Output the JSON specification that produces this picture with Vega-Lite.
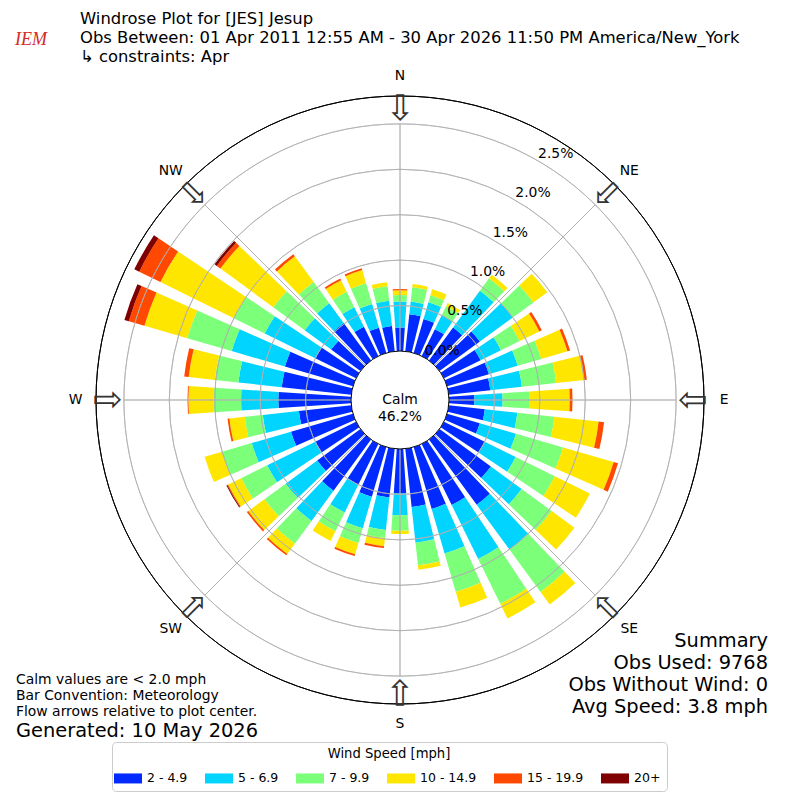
{
  "$schema": "https://vega.github.io/schema/vega-lite/v6.json",
  "width": 800,
  "height": 800,
  "autosize": "none",
  "padding": 0,
  "background": "white",
  "config": {"view": {"stroke": null}, "font": "DejaVu Sans"},
  "datasets": {
    "rose": [
      {"dir":0,"bin":2,"pct":0.26},{"dir":0,"bin":5,"pct":0.285},{"dir":0,"bin":7,"pct":0.072},{"dir":0,"bin":10,"pct":0.053},{"dir":0,"bin":15,"pct":0.013},
      {"dir":10,"bin":2,"pct":0.41},{"dir":10,"bin":5,"pct":0.14},{"dir":10,"bin":7,"pct":0.16},{"dir":10,"bin":10,"pct":0.035},
      {"dir":20,"bin":2,"pct":0.39},{"dir":20,"bin":5,"pct":0.19},{"dir":20,"bin":7,"pct":0.08},{"dir":20,"bin":10,"pct":0.07},
      {"dir":30,"bin":2,"pct":0.33},{"dir":30,"bin":5,"pct":0.17},{"dir":30,"bin":7,"pct":0.11},{"dir":30,"bin":10,"pct":0.04},
      {"dir":40,"bin":2,"pct":0.45},{"dir":40,"bin":5,"pct":0.5},{"dir":40,"bin":7,"pct":0.17},{"dir":40,"bin":10,"pct":0.05},
      {"dir":50,"bin":2,"pct":0.55},{"dir":50,"bin":5,"pct":0.45},{"dir":50,"bin":7,"pct":0.28},{"dir":50,"bin":10,"pct":0.19},
      {"dir":60,"bin":2,"pct":0.45},{"dir":60,"bin":5,"pct":0.25},{"dir":60,"bin":7,"pct":0.23},{"dir":60,"bin":10,"pct":0.24},{"dir":60,"bin":15,"pct":0.03},
      {"dir":70,"bin":2,"pct":0.48},{"dir":70,"bin":5,"pct":0.33},{"dir":70,"bin":7,"pct":0.27},{"dir":70,"bin":10,"pct":0.3},{"dir":70,"bin":15,"pct":0.03},
      {"dir":80,"bin":2,"pct":0.46},{"dir":80,"bin":5,"pct":0.35},{"dir":80,"bin":7,"pct":0.38},{"dir":80,"bin":10,"pct":0.31},{"dir":80,"bin":15,"pct":0.03},
      {"dir":90,"bin":2,"pct":0.28},{"dir":90,"bin":5,"pct":0.31},{"dir":90,"bin":7,"pct":0.3},{"dir":90,"bin":10,"pct":0.44},{"dir":90,"bin":15,"pct":0.03},
      {"dir":100,"bin":2,"pct":0.4},{"dir":100,"bin":5,"pct":0.36},{"dir":100,"bin":7,"pct":0.41},{"dir":100,"bin":10,"pct":0.49},{"dir":100,"bin":15,"pct":0.06},
      {"dir":110,"bin":2,"pct":0.375},{"dir":110,"bin":5,"pct":0.415},{"dir":110,"bin":7,"pct":0.54},{"dir":110,"bin":10,"pct":0.58},{"dir":110,"bin":15,"pct":0.05},
      {"dir":120,"bin":2,"pct":0.5},{"dir":120,"bin":5,"pct":0.38},{"dir":120,"bin":7,"pct":0.48},{"dir":120,"bin":10,"pct":0.43},
      {"dir":130,"bin":2,"pct":0.7},{"dir":130,"bin":5,"pct":0.42},{"dir":130,"bin":7,"pct":0.41},{"dir":130,"bin":10,"pct":0.31},
      {"dir":140,"bin":2,"pct":0.89},{"dir":140,"bin":5,"pct":0.61},{"dir":140,"bin":7,"pct":0.58},{"dir":140,"bin":10,"pct":0.17},
      {"dir":150,"bin":2,"pct":0.75},{"dir":150,"bin":5,"pct":0.66},{"dir":150,"bin":7,"pct":0.55},{"dir":150,"bin":10,"pct":0.18},
      {"dir":160,"bin":2,"pct":0.71},{"dir":160,"bin":5,"pct":0.51},{"dir":160,"bin":7,"pct":0.44},{"dir":160,"bin":10,"pct":0.18},
      {"dir":170,"bin":2,"pct":0.645},{"dir":170,"bin":5,"pct":0.395},{"dir":170,"bin":7,"pct":0.25},{"dir":170,"bin":10,"pct":0.05},
      {"dir":180,"bin":2,"pct":0.49},{"dir":180,"bin":5,"pct":0.24},{"dir":180,"bin":7,"pct":0.17},{"dir":180,"bin":10,"pct":0.035},
      {"dir":190,"bin":2,"pct":0.54},{"dir":190,"bin":5,"pct":0.36},{"dir":190,"bin":7,"pct":0.09},{"dir":190,"bin":10,"pct":0.09},{"dir":190,"bin":15,"pct":0.02},
      {"dir":200,"bin":2,"pct":0.57},{"dir":200,"bin":5,"pct":0.36},{"dir":200,"bin":7,"pct":0.17},{"dir":200,"bin":10,"pct":0.13},{"dir":200,"bin":15,"pct":0.02},
      {"dir":210,"bin":2,"pct":0.5},{"dir":210,"bin":5,"pct":0.34},{"dir":210,"bin":7,"pct":0.23},{"dir":210,"bin":10,"pct":0.12},
      {"dir":220,"bin":2,"pct":0.7},{"dir":220,"bin":5,"pct":0.41},{"dir":220,"bin":7,"pct":0.31},{"dir":220,"bin":10,"pct":0.14},{"dir":220,"bin":15,"pct":0.02},
      {"dir":230,"bin":2,"pct":0.59},{"dir":230,"bin":5,"pct":0.43},{"dir":230,"bin":7,"pct":0.29},{"dir":230,"bin":10,"pct":0.22},{"dir":230,"bin":15,"pct":0.02},
      {"dir":240,"bin":2,"pct":0.5},{"dir":240,"bin":5,"pct":0.59},{"dir":240,"bin":7,"pct":0.32},{"dir":240,"bin":10,"pct":0.16},{"dir":240,"bin":15,"pct":0.01},{"dir":240,"bin":20,"pct":0.01},
      {"dir":250,"bin":2,"pct":0.71},{"dir":250,"bin":5,"pct":0.45},{"dir":250,"bin":7,"pct":0.34},{"dir":250,"bin":10,"pct":0.2},
      {"dir":260,"bin":2,"pct":0.58},{"dir":260,"bin":5,"pct":0.4},{"dir":260,"bin":7,"pct":0.2},{"dir":260,"bin":10,"pct":0.17},{"dir":260,"bin":15,"pct":0.02},
      {"dir":270,"bin":2,"pct":0.8},{"dir":270,"bin":5,"pct":0.41},{"dir":270,"bin":7,"pct":0.3},{"dir":270,"bin":10,"pct":0.28},{"dir":270,"bin":15,"pct":0.01},
      {"dir":280,"bin":2,"pct":0.77},{"dir":280,"bin":5,"pct":0.48},{"dir":280,"bin":7,"pct":0.26},{"dir":280,"bin":10,"pct":0.29},{"dir":280,"bin":15,"pct":0.05},
      {"dir":290,"bin":2,"pct":0.78},{"dir":290,"bin":5,"pct":0.61},{"dir":290,"bin":7,"pct":0.51},{"dir":290,"bin":10,"pct":0.49},{"dir":290,"bin":15,"pct":0.18},{"dir":290,"bin":20,"pct":0.05},
      {"dir":300,"bin":2,"pct":0.5},{"dir":300,"bin":5,"pct":0.62},{"dir":300,"bin":7,"pct":0.38},{"dir":300,"bin":10,"pct":0.9},{"dir":300,"bin":15,"pct":0.26},{"dir":300,"bin":20,"pct":0.06},
      {"dir":310,"bin":2,"pct":0.4},{"dir":310,"bin":5,"pct":0.36},{"dir":310,"bin":7,"pct":0.43},{"dir":310,"bin":10,"pct":0.72},{"dir":310,"bin":15,"pct":0.05},{"dir":310,"bin":20,"pct":0.03},
      {"dir":320,"bin":2,"pct":0.51},{"dir":320,"bin":5,"pct":0.27},{"dir":320,"bin":7,"pct":0.29},{"dir":320,"bin":10,"pct":0.35},{"dir":320,"bin":15,"pct":0.03},
      {"dir":330,"bin":2,"pct":0.36},{"dir":330,"bin":5,"pct":0.24},{"dir":330,"bin":7,"pct":0.19},{"dir":330,"bin":10,"pct":0.14},{"dir":330,"bin":15,"pct":0.02},
      {"dir":340,"bin":2,"pct":0.29},{"dir":340,"bin":5,"pct":0.27},{"dir":340,"bin":7,"pct":0.24},{"dir":340,"bin":10,"pct":0.15},{"dir":340,"bin":15,"pct":0.02},
      {"dir":350,"bin":2,"pct":0.28},{"dir":350,"bin":5,"pct":0.28},{"dir":350,"bin":7,"pct":0.16},{"dir":350,"bin":10,"pct":0.045}
    ],
    "compass": [
      {"a":0,"lab":"N"},{"a":45,"lab":"NE"},{"a":90,"lab":"E"},{"a":135,"lab":"SE"},
      {"a":180,"lab":"S"},{"a":225,"lab":"SW"},{"a":270,"lab":"W"},{"a":315,"lab":"NW"}
    ],
    "rings": [
      {"r":0,"t":"0.0%"},{"r":0.5,"t":"0.5%"},{"r":1,"t":"1.0%"},{"r":1.5,"t":"1.5%"},{"r":2,"t":"2.0%"},{"r":2.5,"t":"2.5%"}
    ]
  },
  "resolve": {"scale": {"theta": "independent"}},
  "layer": [
    {
      "data": {"name": "rose"},
      "mark": {"type": "arc", "strokeWidth": 0},
      "encoding": {
        "theta": {
          "field": "dir", "type": "ordinal",
          "scale": {
            "type": "band",
            "domain": [0,10,20,30,40,50,60,70,80,90,100,110,120,130,140,150,160,170,180,190,200,210,220,230,240,250,260,270,280,290,300,310,320,330,340,350],
            "range": [-0.0872665, 6.1959188],
            "paddingInner": 0.24,
            "paddingOuter": 0.12
          }
        },
        "radius": {
          "field": "pct", "type": "quantitative", "stack": "zero",
          "scale": {"type": "linear", "domain": [0, 2.807], "range": [49, 304], "nice": false}
        },
        "color": {
          "field": "bin", "type": "ordinal",
          "scale": {
            "domain": [2, 5, 7, 10, 15, 20],
            "range": ["#002aff", "#00d4ff", "#7cff79", "#ffe600", "#ff4800", "#7f0000"]
          },
          "legend": {
            "title": "Wind Speed [mph]",
            "orient": "none",
            "legendX": 112,
            "legendY": 742,
            "direction": "horizontal",
            "titleAnchor": "middle",
            "titleFontSize": 13.2,
            "titleFontWeight": "normal",
            "titleColor": "black",
            "titlePadding": 7,
            "labelFontSize": 12.5,
            "labelColor": "black",
            "labelOffset": 9,
            "symbolType": "M-1.4,-0.5H1.4V0.5H-1.4Z",
            "symbolSize": 400,
            "symbolStrokeWidth": 0,
            "columnPadding": 17,
            "padding": 6,
            "strokeColor": "#cccccc",
            "fillColor": "white",
            "cornerRadius": 4,
            "labelExpr": "datum.value == 2 ? '2 - 4.9' : datum.value == 5 ? '5 - 6.9' : datum.value == 7 ? '7 - 9.9' : datum.value == 10 ? '10 - 14.9' : datum.value == 15 ? '15 - 19.9' : '20+'"
          }
        },
        "order": {"field": "bin", "type": "quantitative", "sort": "ascending"}
      }
    },
    {
      "data": {"name": "rings"},
      "transform": [{"filter": "datum.r > 0"}],
      "mark": {"type": "arc", "filled": false, "stroke": "#b0b0b0", "strokeWidth": 0.8, "theta": 0, "theta2": 6.2832},
      "encoding": {
        "radius": {
          "field": "r", "type": "quantitative", "stack": null,
          "scale": {"type": "linear", "domain": [0, 2.807], "range": [49, 304], "nice": false}
        },
        "radius2": {"field": "r"}
      }
    },
    {
      "data": {"name": "compass"},
      "mark": {"type": "arc", "filled": false, "stroke": "#b0b0b0", "strokeWidth": 0.8},
      "encoding": {
        "theta": {
          "field": "a", "type": "quantitative", "stack": null,
          "scale": {"domain": [0, 360], "range": [0, 6.2832]}
        },
        "theta2": {"field": "a"},
        "radius": {
          "datum": 2.5, "type": "quantitative",
          "scale": {"type": "linear", "domain": [0, 2.807], "range": [49, 304], "nice": false}
        },
        "radius2": {"datum": 0}
      }
    },
    {
      "data": {"values": [{}]},
      "mark": {"type": "arc", "fill": "white", "stroke": "black", "strokeWidth": 1, "theta": 0, "theta2": 6.2832},
      "encoding": {
        "radius": {
          "datum": 0, "type": "quantitative",
          "scale": {"type": "linear", "domain": [0, 2.807], "range": [49, 304], "nice": false}
        },
        "radius2": {"value": 0}
      }
    },
    {
      "data": {"values": [{}]},
      "mark": {"type": "arc", "filled": false, "stroke": "black", "strokeWidth": 1, "theta": 0, "theta2": 6.2832},
      "encoding": {
        "radius": {
          "datum": 2.807, "type": "quantitative",
          "scale": {"type": "linear", "domain": [0, 2.807], "range": [49, 304], "nice": false}
        },
        "radius2": {"datum": 2.807}
      }
    },
    {
      "data": {"name": "rings"},
      "mark": {"type": "text", "align": "left", "baseline": "bottom", "fontSize": 13.9, "color": "black"},
      "encoding": {
        "theta": {
          "datum": 30, "type": "quantitative",
          "scale": {"domain": [0, 360], "range": [0, 6.2832]}
        },
        "radius": {
          "field": "r", "type": "quantitative", "stack": null,
          "scale": {"type": "linear", "domain": [0, 2.807], "range": [49, 304], "nice": false}
        },
        "text": {"field": "t"}
      }
    },
    {
      "data": {"name": "compass"},
      "mark": {"type": "text", "align": "center", "baseline": "middle", "fontSize": 13.9, "color": "black"},
      "encoding": {
        "theta": {
          "field": "a", "type": "quantitative", "stack": null,
          "scale": {"domain": [0, 360], "range": [0, 6.2832]}
        },
        "radius": {
          "datum": 3.03, "type": "quantitative",
          "scale": {"type": "linear", "domain": [0, 2.807], "range": [49, 304], "nice": false}
        },
        "text": {"field": "lab"}
      }
    },
    {
      "data": {"name": "compass"},
      "mark": {"type": "text", "text": "⇩", "align": "center", "baseline": "middle", "fontSize": 35, "color": "#333333"},
      "encoding": {
        "theta": {
          "field": "a", "type": "quantitative", "stack": null,
          "scale": {"domain": [0, 360], "range": [0, 6.2832]}
        },
        "radius": {
          "datum": 2.66, "type": "quantitative",
          "scale": {"type": "linear", "domain": [0, 2.807], "range": [49, 304], "nice": false}
        },
        "angle": {"field": "a", "type": "quantitative", "scale": null}
      }
    },
    {
      "data": {"values": [{}]},
      "mark": {"type": "text", "text": ["Calm", "46.2%"], "align": "center", "baseline": "middle", "fontSize": 13.9, "lineHeight": 17, "color": "black"},
      "encoding": {}
    },
    {
      "data": {"values": [{}]},
      "mark": {
        "type": "text", "align": "left", "baseline": "alphabetic", "fontSize": 16.4, "lineHeight": 19.2, "color": "black",
        "text": ["Windrose Plot for [JES] Jesup", "Obs Between: 01 Apr 2011 12:55 AM - 30 Apr 2026 11:50 PM America/New_York", " ↳ constraints: Apr"]
      },
      "encoding": {"x": {"value": 80}, "y": {"value": 24}}
    },
    {
      "data": {"values": [{}]},
      "mark": {"type": "text", "text": "IEM", "align": "center", "baseline": "alphabetic", "fontSize": 18, "font": "Liberation Serif", "fontStyle": "italic", "color": "#d42a2a"},
      "encoding": {"x": {"value": 31}, "y": {"value": 45}}
    },
    {
      "data": {"values": [{}]},
      "mark": {
        "type": "text", "align": "left", "baseline": "alphabetic", "fontSize": 13.9, "lineHeight": 16, "color": "black",
        "text": ["Calm values are < 2.0 mph", "Bar Convention: Meteorology", "Flow arrows relative to plot center."]
      },
      "encoding": {"x": {"value": 16}, "y": {"value": 684}}
    },
    {
      "data": {"values": [{}]},
      "mark": {"type": "text", "text": "Generated: 10 May 2026", "align": "left", "baseline": "alphabetic", "fontSize": 19.4, "color": "black"},
      "encoding": {"x": {"value": 16}, "y": {"value": 737}}
    },
    {
      "data": {"values": [{}]},
      "mark": {
        "type": "text", "align": "right", "baseline": "alphabetic", "fontSize": 19.4, "lineHeight": 22, "color": "black",
        "text": ["Summary", "Obs Used: 9768", "Obs Without Wind: 0", "Avg Speed: 3.8 mph"]
      },
      "encoding": {"x": {"value": 768}, "y": {"value": 647}}
    }
  ]
}
